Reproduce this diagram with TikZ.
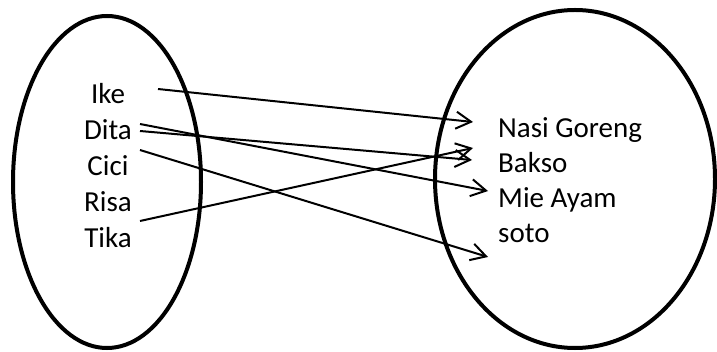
\documentclass[tikz,border=0pt]{standalone}
\usepackage{fontspec}
\setmainfont{Carlito}
\usetikzlibrary{arrows.meta}

\begin{document}
\begin{tikzpicture}[x=1pt, y=-1pt,
		set/.style={line width=4pt},
		item/.style={font=\fontsize{29}{36}\selectfont, inner sep=0pt},
		map/.style={line width=2pt, -{Straight Barb[length=15pt, width=17pt]}}]
		\useasboundingbox (0,0) rectangle (717,352);

		\draw[set] (107,182) ellipse (94 and 166);
		\draw[set] (575,179) ellipse (140 and 169);

		\node[item, anchor=base] (ike) at (108,104) {Ike};
		\node[item, anchor=base] (dita) at (108,140) {Dita};
		\node[item, anchor=base] (cici) at (108,176) {Cici};
		\node[item, anchor=base] (risa) at (108,212) {Risa};
		\node[item, anchor=base] (tika) at (108,248) {Tika};

		\node[item, anchor=base west] (nasi) at (498,138) {Nasi Goreng};
		\node[item, anchor=base west] (bakso) at (498,173) {Bakso};
		\node[item, anchor=base west] (mie) at (498,208) {Mie Ayam};
		\node[item, anchor=base west] (soto) at (498,243) {soto};

		\coordinate (ike-out) at (158,89);
		\coordinate (dita-out1) at (140,124);
		\coordinate (dita-out2) at (140,131);
		\coordinate (cici-out) at (140,150);
		\coordinate (tika-out) at (140,221);

		\coordinate (nasi-in) at (473,122);
		\coordinate (bakso-in1) at (473,148);
		\coordinate (bakso-in2) at (472,160);
		\coordinate (mie-in) at (488,191);
		\coordinate (soto-in) at (488,257);

		\draw[map] (ike-out) -- (nasi-in);
		\draw[map] (dita-out1) -- (mie-in);
		\draw[map] (dita-out2) -- (bakso-in2);
		\draw[map] (cici-out) -- (soto-in);
		\draw[map] (tika-out) -- (bakso-in1);
	\end{tikzpicture}
\end{document}
